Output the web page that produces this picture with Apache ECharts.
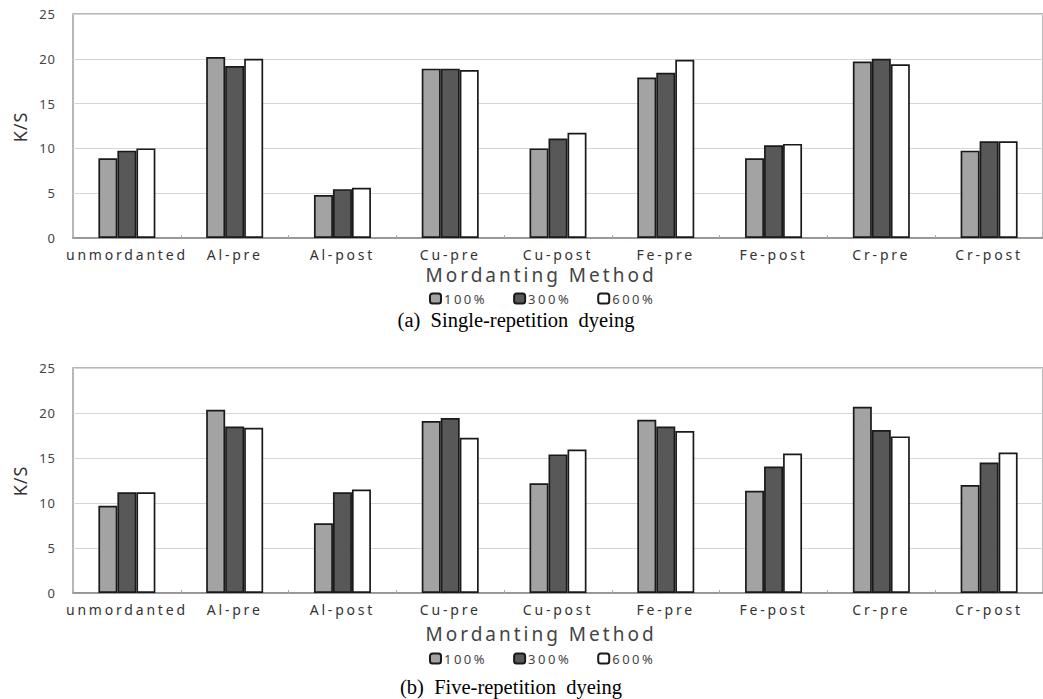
<!DOCTYPE html>
<html><head><meta charset="utf-8">
<script src="https://cdn.jsdelivr.net/npm/echarts@6/dist/echarts.min.js"></script>
<style>html,body{margin:0;padding:0;background:#fff}#c{width:1043px;height:699px}#c text{white-space:pre}</style>
</head><body><div id="c"></div>
<script>
const categories = ['unmordanted','Al-pre','Al-post','Cu-pre','Cu-post','Fe-pre','Fe-post','Cr-pre','Cr-post'];
const seriesNames = ['100%','300%','600%'];
const single100 = [8.9, 20.2, 4.8, 18.9, 10.0, 17.9, 8.9, 19.7, 9.75];
const single300 = [9.75, 19.2, 5.45, 18.9, 11.1, 18.45, 10.35, 20.0, 10.8];
const single600 = [10.0, 20.0, 5.6, 18.75, 11.75, 19.9, 10.5, 19.4, 10.8];
const five100 = [9.7, 20.35, 7.75, 19.1, 12.2, 19.25, 11.35, 20.7, 12.0];
const five300 = [11.2, 18.5, 11.2, 19.45, 15.4, 18.5, 14.05, 18.1, 14.5];
const five600 = [11.2, 18.35, 11.5, 17.25, 15.95, 18.0, 15.5, 17.4, 15.6];
const yMin = 0, yMax = 25, yStep = 5;
const xAxisTitle = 'Mordanting Method';
const yAxisTitle = 'K/S';
const captionA = '(a)  Single-repetition  dyeing';
const captionB = '(b)  Five-repetition  dyeing';

const fills = ['#a3a3a3', '#585858', '#ffffff'];
const sans = '"Noto Sans", "DejaVu Sans", sans-serif';
const serif = '"Liberation Serif", "Times New Roman", serif';

function xAxis(gi){
  return {
    type:'category', gridIndex:gi, data:categories,
    axisLine:{show:true, lineStyle:{color:'#8a8a8a', width:1.5}},
    axisTick:{show:true, inside:true, length:3, lineStyle:{color:'#aaa'}},
    axisLabel:{interval:0, color:'#333', fontSize:14, fontFamily:sans, margin:9}
  };
}
function yAxis(gi){
  return {
    type:'value', gridIndex:gi, min:yMin, max:yMax, interval:yStep,
    axisLine:{show:false}, axisTick:{show:false},
    axisLabel:{color:'#444', fontSize:13, fontFamily:sans, margin:17},
    splitLine:{show:true, lineStyle:{color:'#d6d6d6', width:1}}
  };
}
function series(gi, arrs){
  return arrs.map((d,i)=>({
    type:'bar', name:seriesNames[i], xAxisIndex:gi, yAxisIndex:gi, data:d,
    barWidth:19, barGap:'0%',
    itemStyle:{color:fills[i], borderColor:'#1a1a1a', borderWidth:1.7}
  }));
}
function legend(top){
  return {
    data:seriesNames, top:top, left:429, padding:0, itemWidth:11, itemHeight:10, itemGap:36,
    icon:'roundRect', selectedMode:false,
    textStyle:{fontSize:13, color:'#444', fontFamily:sans, padding:[0,0,0,-2]}
  };
}
function gtext(x, y, text, font, fill, rot){
  return {type:'text', x:x, y:y, rotation:rot||0,
    style:{text:text, font:font, fill:fill, textAlign:'center', verticalAlign:'middle', textVerticalAlign:'middle'}};
}

const chart = echarts.init(document.getElementById('c'), null, {renderer:'svg'});
chart.setOption({
  animation:false,
  backgroundColor:'#fff',
  grid:[
    {left:73, top:14, width:971, height:224, show:true, borderColor:'#a0a0a0', borderWidth:1.5, backgroundColor:'transparent'},
    {left:73, top:368, width:971, height:225, show:true, borderColor:'#a0a0a0', borderWidth:1.5, backgroundColor:'transparent'}
  ],
  xAxis:[xAxis(0), xAxis(1)],
  yAxis:[yAxis(0), yAxis(1)],
  legend:[legend(292), legend(652)],
  series:[].concat(series(0,[single100,single300,single600]), series(1,[five100,five300,five600])),
  graphic:[
    gtext(20, 127, yAxisTitle, '18px ' + sans, '#333', Math.PI/2),
    gtext(20, 481, yAxisTitle, '18px ' + sans, '#333', Math.PI/2),
    gtext(541, 275, xAxisTitle, '19px ' + sans, '#444'),
    gtext(541, 634, xAxisTitle, '19px ' + sans, '#444'),
    gtext(516, 320, captionA, '20.5px ' + serif, '#000'),
    gtext(511, 687, captionB, '20.5px ' + serif, '#000')
  ]
});

function spacing(){
  const cats = new Set(categories);
  document.querySelectorAll('#c svg text').forEach(t=>{
    const s = t.textContent;
    let ls = null;
    if (cats.has(s)) ls = '2.8px';
    else if (s === xAxisTitle) ls = '3px';
    else if (seriesNames.includes(s)) ls = '2.5px';
    else if (s === yAxisTitle) ls = '1px';
    else if (/^\d+$/.test(s)) ls = '1px';
    if (ls) t.style.letterSpacing = ls;
  });
}
spacing();
chart.on('finished', spacing);
</script>
</body></html>
